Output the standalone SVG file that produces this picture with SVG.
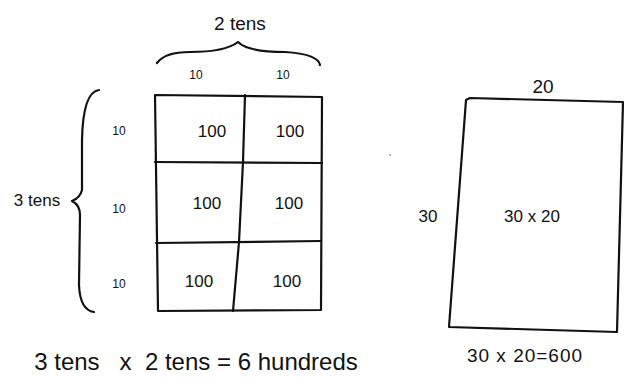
<svg xmlns="http://www.w3.org/2000/svg" width="624" height="378" viewBox="0 0 624 378">
<style>
.ln{fill:none;stroke:#111;stroke-width:2.2;stroke-linecap:round;stroke-linejoin:round}
text{font-family:"Liberation Sans","DejaVu Sans",sans-serif;fill:#111;text-anchor:middle}
.s{font-size:12px}
.m{font-size:17px}
.l{font-size:19px}
.b{font-size:24px}
</style>
<rect width="624" height="378" fill="#fff"/>
<g id="grid">
<path class="ln" d="M155 95 L322 97 L321 310 L158 311 Z"/>
<path class="ln" d="M245 95 L243 162 L239 242 L233 311"/>
<path class="ln" d="M155 162 L322 163"/>
<path class="ln" d="M156 243 L321 241"/>
<text class="m" x="212" y="137">100</text>
<text class="m" x="290" y="137">100</text>
<text class="m" x="207" y="209">100</text>
<text class="m" x="289" y="209">100</text>
<text class="m" x="199" y="287">100</text>
<text class="m" x="287" y="287">100</text>
</g>
<g id="top-brace">
<path class="ln" d="M157 63 Q165 52 190 52 Q225 52 238 42 Q248 52 285 52 Q318 54 320 65"/>
<text class="l" x="240" y="30">2 tens</text>
<text class="s" x="196" y="79">10</text>
<text class="s" x="283" y="79">10</text>
</g>
<g id="left-brace">
<path class="ln" d="M99 90 Q83 92 82 140 L82 190 Q80 198 72 201 Q80 205 80 215 L79 285 Q80 310 94 312"/>
<text class="m" x="37" y="206">3 tens</text>
<text class="s" x="119" y="135">10</text>
<text class="s" x="119" y="213">10</text>
<text class="s" x="119" y="288">10</text>
</g>
<g id="rect">
<path class="ln" d="M466 100 L470 98 L623 102 L617 332 L449 327 Z"/>
<text class="l" x="543" y="93">20</text>
<text class="m" x="428" y="222">30</text>
<text class="m" x="532" y="222">30 x 20</text>
<text class="l" x="525" y="362" letter-spacing="1">30 x 20=600</text>
<circle cx="390" cy="155" r="1" fill="#999"/>
</g>
<g id="equation">
<text class="b" x="196" y="370" xml:space="preserve">3 tens   x  2 tens = 6 hundreds</text>
</g>
</svg>
